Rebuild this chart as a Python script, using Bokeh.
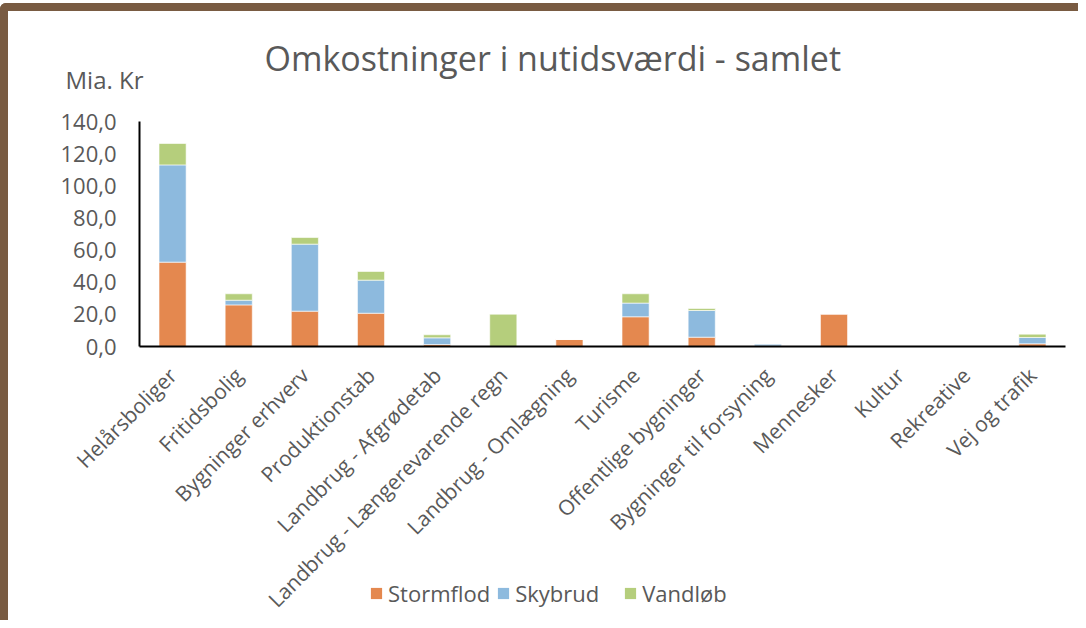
import math
from bokeh.plotting import figure
from bokeh.models import Label, Legend, LegendItem, CustomJSTickFormatter, Range1d
from bokeh.embed import file_html
from bokeh.resources import INLINE

categories = ["Helårsboliger", "Fritidsbolig", "Bygninger erhverv", "Produktionstab",
              "Landbrug - Afgrødetab", "Landbrug - Længerevarende regn", "Landbrug - Omlægning",
              "Turisme", "Offentlige bygninger", "Bygninger til forsyning", "Mennesker",
              "Kultur", "Rekreative", "Vej og trafik"]
series = ["Stormflod", "Skybrud", "Vandløb"]
stormflod = [52.5, 25.9, 22.0, 20.7, 1.2, 0.0, 4.4, 18.5, 5.8, 0.3, 20.3, 0.0, 0.0, 1.7]
skybrud = [60.5, 2.9, 41.7, 20.6, 4.2, 0.0, 0.0, 8.5, 16.6, 1.3, 0.0, 0.0, 0.0, 3.9]
vandlob = [13.3, 4.0, 4.1, 5.4, 1.9, 20.1, 0.0, 5.8, 1.2, 0.0, 0.0, 0.0, 0.0, 2.1]
colors = ["#E4884F", "#8DBADE", "#B5CE7C"]
y_ticks = [0, 20, 40, 60, 80, 100, 120, 140]
title_text = "Omkostninger i nutidsværdi - samlet"
unit_text = "Mia. Kr"

FONT = "Open Sans"
GREY = "#595959"
BROWN = "#795B42"

data = {"cat": categories, "Stormflod": stormflod, "Skybrud": skybrud, "Vandløb": vandlob}

# ---- main chart ----
p = figure(x_range=categories, y_range=Range1d(0, 140), width=1078, height=617,
           output_backend="svg", toolbar_location=None,
           min_border_left=131, min_border_top=110, min_border_right=21, min_border_bottom=282)
p.styles = {"border-left": f"8px solid {BROWN}", "border-top": f"8px solid {BROWN}",
            "border-top-left-radius": "6px", "margin-top": "3px"}

p.vbar_stack(series, x="cat", width=0.41, color=colors, source=data,
             line_color="white", line_alpha=0.6, line_width=1)

p.xgrid.grid_line_color = None
p.ygrid.grid_line_color = None
p.outline_line_color = None
p.x_range.range_padding = 0

for ax in (p.xaxis[0], p.yaxis[0]):
    ax.axis_line_color = "black"
    ax.axis_line_width = 2
    ax.major_tick_line_color = None
    ax.minor_tick_line_color = None
    ax.major_label_text_font = FONT
    ax.major_label_text_color = GREY

p.yaxis.ticker = y_ticks
p.yaxis.formatter = CustomJSTickFormatter(code="return tick.toFixed(1).replace('.', ',');")
p.yaxis.major_label_text_font_size = "22px"
p.yaxis.major_label_standoff = 17
p.xaxis.major_label_orientation = math.pi / 4
p.xaxis.major_label_standoff = 19
p.xaxis.major_label_text_font_size = "21px"

# title and unit label in the panel above the frame
p.add_layout(Label(x=125, y=64, x_units="screen", y_units="screen", text=title_text,
                   text_font=FONT, text_font_size="34px", text_color=GREY,
                   text_baseline="alphabetic"), "above")
p.add_layout(Label(x=-74, y=-4, x_units="screen", y_units="screen", text=unit_text,
                   text_font=FONT, text_font_size="24px", text_color=GREY,
                   text_baseline="alphabetic"), "above")

# ---- legend strip laid over the bottom of the chart ----
p2 = figure(x_range=categories, y_range=Range1d(500, 600), width=400, height=30,
            output_backend="svg", toolbar_location=None,
            x_axis_location=None, y_axis_location=None, min_border=0)
p2.styles = {"position": "absolute", "left": "360px", "top": "578px"}
p2.background_fill_alpha = 0
p2.border_fill_alpha = 0
p2.outline_line_color = None
p2.xgrid.grid_line_color = None
p2.ygrid.grid_line_color = None
r2 = p2.vbar_stack(series, x="cat", width=0.41, color=colors, source=data, line_color=None)
legend = Legend(items=[LegendItem(label=s, renderers=[r]) for s, r in zip(series, r2)],
                orientation="horizontal", location=(9, 0),
                label_text_font=FONT, label_text_font_size="22px", label_text_color=GREY,
                glyph_width=14, glyph_height=14, spacing=6, label_standoff=5, label_width=102,
                background_fill_alpha=0, border_line_color=None, padding=0, margin=0)
p2.add_layout(legend, "center")

open("out.html", "w").write(file_html([p, p2], INLINE))
